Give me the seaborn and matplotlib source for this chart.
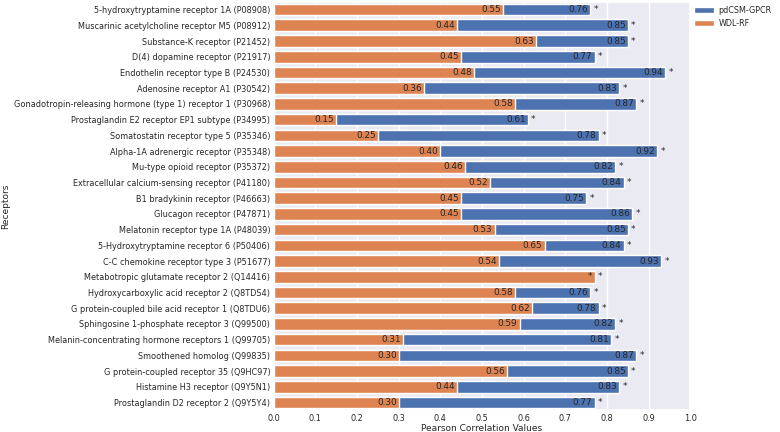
import matplotlib
matplotlib.use("Agg")
import matplotlib.pyplot as plt
import seaborn as sns
import numpy as np

# receptor names and scores
receptors = [
    "5-hydroxytryptamine receptor 1A (P08908)",
    "Muscarinic acetylcholine receptor M5 (P08912)",
    "Substance-K receptor (P21452)",
    "D(4) dopamine receptor (P21917)",
    "Endothelin receptor type B (P24530)",
    "Adenosine receptor A1 (P30542)",
    "Gonadotropin-releasing hormone (type 1) receptor 1 (P30968)",
    "Prostaglandin E2 receptor EP1 subtype (P34995)",
    "Somatostatin receptor type 5 (P35346)",
    "Alpha-1A adrenergic receptor (P35348)",
    "Mu-type opioid receptor (P35372)",
    "Extracellular calcium-sensing receptor (P41180)",
    "B1 bradykinin receptor (P46663)",
    "Glucagon receptor (P47871)",
    "Melatonin receptor type 1A (P48039)",
    "5-Hydroxytryptamine receptor 6 (P50406)",
    "C-C chemokine receptor type 3 (P51677)",
    "Metabotropic glutamate receptor 2 (Q14416)",
    "Hydroxycarboxylic acid receptor 2 (Q8TDS4)",
    "G protein-coupled bile acid receptor 1 (Q8TDU6)",
    "Sphingosine 1-phosphate receptor 3 (Q99500)",
    "Melanin-concentrating hormone receptors 1 (Q99705)",
    "Smoothened homolog (Q99835)",
    "G protein-coupled receptor 35 (Q9HC97)",
    "Histamine H3 receptor (Q9Y5N1)",
    "Prostaglandin D2 receptor 2 (Q9Y5Y4)",
]
pdcsm = [0.76, 0.85, 0.85, 0.77, 0.94, 0.83, 0.87, 0.61, 0.78, 0.92, 0.82, 0.84, 0.75,
         0.86, 0.85, 0.84, 0.93, 0.77, 0.76, 0.78, 0.82, 0.81, 0.87, 0.85, 0.83, 0.77]
wdl = [0.55, 0.44, 0.63, 0.45, 0.48, 0.36, 0.58, 0.15, 0.25, 0.40, 0.46, 0.52, 0.45,
       0.45, 0.53, 0.65, 0.54, 0.77, 0.58, 0.62, 0.59, 0.31, 0.30, 0.56, 0.44, 0.30]
pdcsm_labels = [f"{v:.2f}" for v in pdcsm]
pdcsm_labels[17] = ""
wdl_labels = [f"{v:.2f}" for v in wdl]
wdl_labels[17] = "*"
stars = ["*"] * len(receptors)

sns.set_theme(style="darkgrid")
txt = "#262626"

fig = plt.figure(figsize=(7.8, 4.32), dpi=100)
ax = fig.add_axes([0.351, 0.050, 0.534, 0.946])

sns.barplot(x=pdcsm, y=receptors, color="#4C72B0", saturation=1, width=0.74,
            label="pdCSM-GPCR", ax=ax, orient="h")
sns.barplot(x=wdl, y=receptors, color="#DD8452", saturation=1, width=0.74,
            label="WDL-RF", ax=ax, orient="h")

for i in range(len(receptors)):
    if pdcsm_labels[i]:
        ax.text(pdcsm[i] - 0.005, i, pdcsm_labels[i], ha="right", va="center", fontsize=6.4, color=txt)
    ax.text(wdl[i] - 0.005, i, wdl_labels[i], ha="right", va="center", fontsize=6.4, color=txt)
    ax.text(max(pdcsm[i], wdl[i]) + 0.008, i, stars[i], ha="left", va="center", fontsize=6.4, color=txt)

ax.set_xlim(0, 1)
ax.set_xticks(np.arange(0, 1.01, 0.1))
ax.set_xticklabels([f"{t:.1f}" for t in np.arange(0, 1.01, 0.1)])
ax.tick_params(axis="both", labelsize=5.9, length=0, pad=2.5)
ax.set_xlabel("Pearson Correlation Values", fontsize=6.5, labelpad=1)
ax.set_ylabel("Receptors", fontsize=6.5, labelpad=3)
ax.legend(loc="upper left", bbox_to_anchor=(1.0, 1.0), frameon=False, fontsize=5.8,
          handlelength=2.4, handletextpad=0.6, borderaxespad=0.2, borderpad=0.3)

fig.savefig("out.png", dpi=100)
